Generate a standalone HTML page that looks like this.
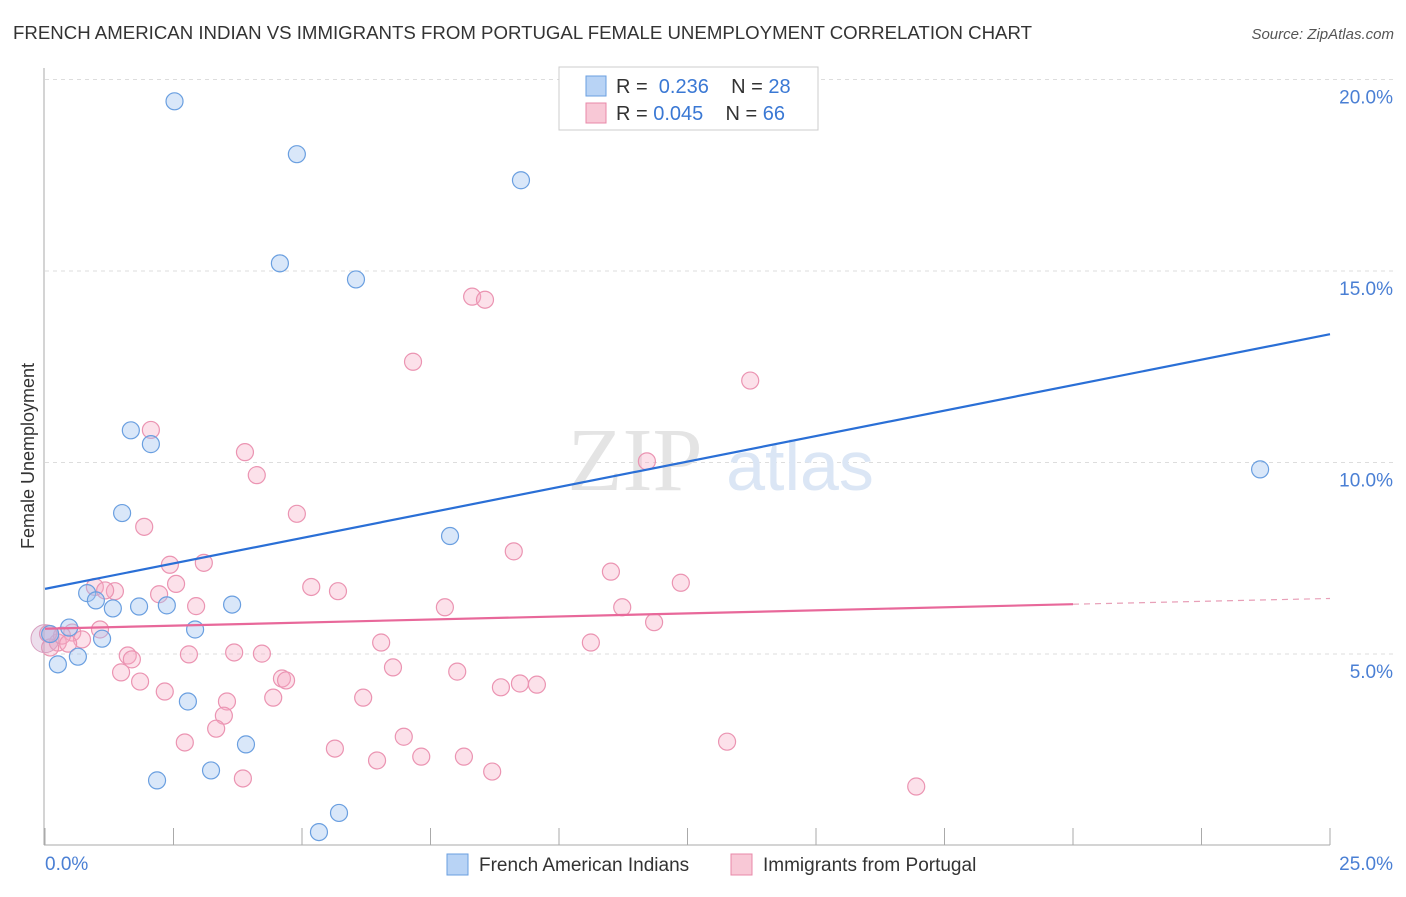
<!DOCTYPE html>
<html><head><meta charset="utf-8"><style>
body{margin:0;background:#fff;font-family:"Liberation Sans",sans-serif;}
</style></head><body>
<svg width="1406" height="892" xmlns="http://www.w3.org/2000/svg" style="font-family:'Liberation Sans',sans-serif">
<text x="13" y="39" font-size="18" fill="#333" textLength="1019" lengthAdjust="spacingAndGlyphs">FRENCH AMERICAN INDIAN VS IMMIGRANTS FROM PORTUGAL FEMALE UNEMPLOYMENT CORRELATION CHART</text>
<text x="1394" y="39" font-size="15" fill="#555" font-style="italic" text-anchor="end">Source: ZipAtlas.com</text>
<g id="grid"></g>
<g><text x="635" y="490" font-size="90" fill="#e4e4e4" font-family="Liberation Serif" text-anchor="middle">ZIP</text><text x="800" y="490" font-size="70" fill="#dbe6f5" text-anchor="middle">atlas</text></g>
<line x1="44" y1="68" x2="44" y2="845" stroke="#aaa"/>
<line x1="44" y1="845" x2="1330" y2="845" stroke="#aaa"/>
<g id="xticks"></g>
<text x="45" y="870" font-size="19" fill="#4a7fd4">0.0%</text>
<text x="1393" y="870" font-size="19" fill="#4a7fd4" text-anchor="end">25.0%</text>
<g id="ylabels"></g>
<text transform="translate(34,456) rotate(-90)" font-size="18" fill="#333" text-anchor="middle">Female Unemployment</text>
<g id="pink"></g>
<g id="blue"></g>
<g id="lines"></g>
<g>
<rect x="559" y="67" width="259" height="63" fill="#fff" stroke="#ccc"/>
<rect x="586" y="76" width="20" height="20" fill="#b8d3f5" stroke="#6a9fe0"/>
<text x="616" y="93" font-size="20" fill="#333">R = <tspan fill="#3a78d4">&#160;0.236</tspan>&#160;&#160;&#160; N = <tspan fill="#3a78d4">28</tspan></text>
<rect x="586" y="103" width="20" height="20" fill="#f8c8d6" stroke="#e888a8"/>
<text x="616" y="120" font-size="20" fill="#333">R = <tspan fill="#3a78d4">0.045</tspan>&#160;&#160;&#160; N = <tspan fill="#3a78d4">66</tspan></text>
</g>
<g>
<rect x="447" y="854" width="21" height="21" fill="#b8d3f5" stroke="#6a9fe0"/>
<text x="479" y="871" font-size="19" fill="#333">French American Indians</text>
<rect x="731" y="854" width="21" height="21" fill="#f8c8d6" stroke="#e888a8"/>
<text x="763" y="871" font-size="19" fill="#333">Immigrants from Portugal</text>
</g>
</svg>
<script>
const yTicks=[5,10,15,20];
const blueX=[2.52,4.9,9.26,4.57,6.05,1.67,2.06,1.5,7.88,23.64,0.82,0.99,1.32,1.83,2.37,3.64,2.92,0.47,1.11,0.64,0.25,2.78,3.91,2.18,3.23,5.72,5.33,0.1];
const blueY=[19.43,18.05,17.37,15.2,14.78,10.84,10.48,8.68,8.08,9.82,6.59,6.4,6.19,6.24,6.27,6.29,5.64,5.69,5.4,4.93,4.73,3.76,2.64,1.7,1.96,0.85,0.35,5.52];
const pinkX=[8.31,8.56,7.16,13.72,2.06,3.89,11.71,4.12,4.9,1.93,9.12,2.43,3.09,11.01,12.37,0.97,2.55,5.18,5.7,1.36,1.17,2.22,2.94,7.78,11.23,11.85,1.07,0.53,0.72,0.25,0.1,6.54,10.62,1.61,1.69,2.8,3.68,4.22,6.77,8.02,1.48,1.85,4.61,4.69,9.24,9.57,8.87,2.33,4.44,6.19,3.54,3.48,3.33,2.72,6.98,13.27,5.64,7.32,8.15,6.46,8.7,3.85,16.95,0.33,0.06,0.45];
const pinkY=[14.33,14.25,12.63,12.14,10.85,10.27,10.03,9.67,8.66,8.32,7.68,7.33,7.38,7.15,6.86,6.75,6.83,6.75,6.64,6.64,6.66,6.56,6.25,6.22,6.22,5.83,5.64,5.56,5.38,5.3,5.17,5.3,5.3,4.96,4.86,4.99,5.04,5.01,4.65,4.54,4.52,4.28,4.36,4.31,4.23,4.2,4.13,4.02,3.86,3.86,3.76,3.39,3.05,2.69,2.84,2.71,2.53,2.32,2.32,2.22,1.93,1.75,1.54,5.48,5.53,5.27];
const blueLine=[[0,6.7],[25,13.35]];
const pinkLine=[[0,5.66],[20,6.3],[25,6.45]];
const X=v=>45+v/25*1285, Y=v=>845.5-v/5*191.5;
const ns="http://www.w3.org/2000/svg";
function mk(t,a,p){const e=document.createElementNS(ns,t);for(const k in a)e.setAttribute(k,a[k]);p.appendChild(e);return e;}
const grid=document.getElementById('grid'),yl=document.getElementById('ylabels');
yTicks.forEach(t=>{const l=mk('line',{x1:45,x2:1393,y1:Y(t),y2:Y(t),stroke:'#ddd','stroke-dasharray':'4,4'},grid);


const tx=mk('text',{x:1393,y:Y(t)+24,'font-size':19,fill:'#4a7fd4','text-anchor':'end'},yl);tx.textContent=t.toFixed(1)+'%';

});
const xt=document.getElementById('xticks');
for(let i=0;i<=10;i++){const l=mk('line',{x1:X(i*2.5),x2:X(i*2.5),y1:828,y2:845,stroke:'#aaa'},xt);

}
const pg=document.getElementById('pink'),bg=document.getElementById('blue');
pinkX.forEach((v,i)=>{const c=mk('circle',{cx:X(v),cy:Y(pinkY[i]),r:8.5,fill:'rgba(245,170,195,0.35)',stroke:'#eb94b2','stroke-width':1.2},pg);

});
blueX.forEach((v,i)=>{const c=mk('circle',{cx:X(v),cy:Y(blueY[i]),r:8.5,fill:'rgba(160,195,240,0.4)',stroke:'#6a9fe0','stroke-width':1.2},bg);

});
const big=mk('circle',{cx:X(0),cy:Y(5.4),r:14,fill:'rgba(200,160,200,0.35)',stroke:'#d8a0c0'},pg);


const lg=document.getElementById('lines');
const bl=mk('line',{x1:X(blueLine[0][0]),y1:Y(blueLine[0][1]),x2:X(blueLine[1][0]),y2:Y(blueLine[1][1]),stroke:'#2a6fd6','stroke-width':2.2},lg);


const pl=mk('line',{x1:X(pinkLine[0][0]),y1:Y(pinkLine[0][1]),x2:X(pinkLine[1][0]),y2:Y(pinkLine[1][1]),stroke:'#e8689a','stroke-width':2.2},lg);


const pd=mk('line',{x1:X(pinkLine[1][0]),y1:Y(pinkLine[1][1]),x2:X(pinkLine[2][0]),y2:Y(pinkLine[2][1]),stroke:'#e8a0b8','stroke-width':1.2,'stroke-dasharray':'6,5'},lg);


</script>
</body></html>
